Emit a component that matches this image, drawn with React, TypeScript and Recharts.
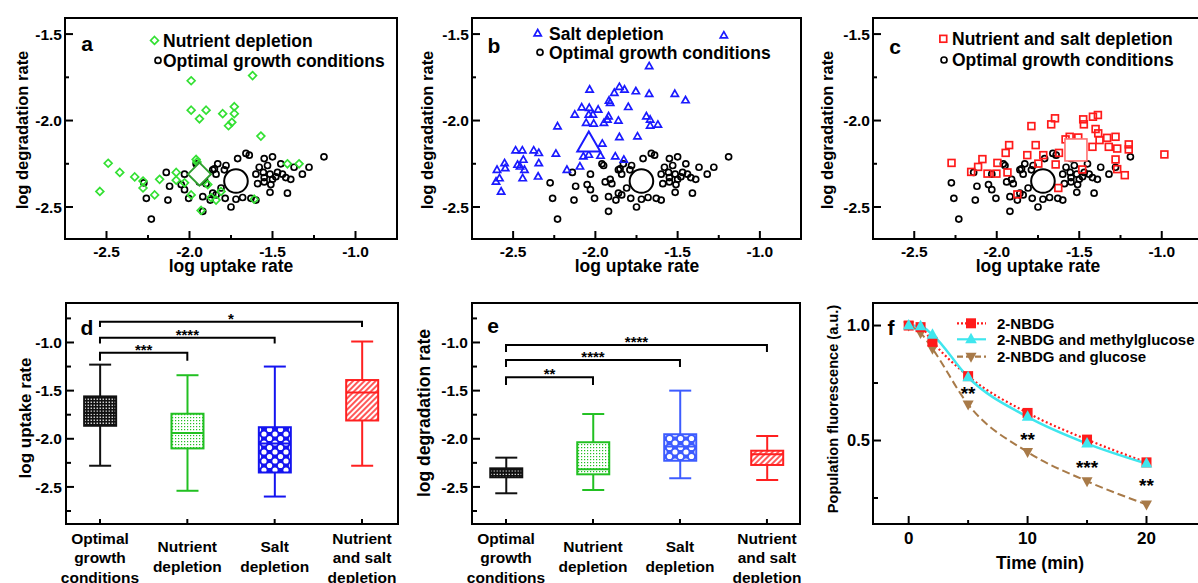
import React from "react"
import {
  ScatterChart,
  Scatter,
  ComposedChart,
  Bar,
  Line,
  XAxis,
  YAxis,
  ReferenceArea,
  Legend,
} from "recharts"

const FONT = "'Liberation Sans', Arial, Helvetica, sans-serif"

// ---------- a-c: single cells as [log uptake rate, log degradation rate] ----------
const optimalCells: [number, number][] = [
  [-1.19, -2.21], [-1.64, -2.2], [-1.71, -2.22], [-1.55, -2.22], [-1.5, -2.21], [-1.96, -2.25],
  [-1.83, -2.25], [-1.78, -2.26], [-1.53, -2.26], [-1.45, -2.25], [-1.37, -2.27], [-1.28, -2.27],
  [-2.14, -2.3], [-2.03, -2.31], [-1.86, -2.285], [-1.79, -2.285], [-1.84, -2.31], [-1.6, -2.31],
  [-1.555, -2.3], [-1.515, -2.31], [-1.48, -2.325], [-1.44, -2.31], [-1.32, -2.31], [-2.275, -2.36],
  [-2.12, -2.38], [-2.05, -2.37], [-1.94, -2.355], [-1.91, -2.34], [-1.9, -2.365], [-2.03, -2.4],
  [-1.81, -2.39], [-1.59, -2.365], [-1.55, -2.355], [-1.51, -2.37], [-1.42, -2.33], [-1.39, -2.34],
  [-2.26, -2.45], [-2.13, -2.46], [-2.005, -2.45], [-1.92, -2.44], [-1.875, -2.46], [-1.84, -2.43],
  [-1.785, -2.45], [-1.72, -2.455], [-1.68, -2.445], [-1.63, -2.45], [-1.6, -2.46], [-1.515, -2.415],
  [-1.41, -2.42], [-1.92, -2.525], [-1.75, -2.5], [-2.23, -2.57], [-1.55, -2.33], [-1.5, -2.34],
  [-1.58, -2.27], [-1.47, -2.3], [-1.85, -2.28], [-1.66, -2.19], [-1.95, -2.26], [-1.86, -2.42],
]

const nutrientCells: [number, number][] = [
  [-2.54, -2.41], [-2.49, -2.247], [-2.42, -2.3], [-2.33, -2.326], [-2.28, -2.35], [-2.28, -2.39],
  [-2.21, -2.43], [-2.18, -2.34], [-2.08, -2.3], [-2.08, -2.345], [-2.03, -2.36], [-1.99, -2.43],
  [-1.99, -1.77], [-1.99, -1.94], [-1.94, -1.99], [-1.9, -1.94], [-1.96, -2.225], [-1.955, -2.24],
  [-1.89, -2.37], [-1.93, -2.52], [-1.87, -2.445], [-1.84, -2.46], [-1.8, -1.96], [-1.81, -2.41],
  [-1.765, -2.03], [-1.745, -2.01], [-1.73, -1.92], [-1.73, -1.96], [-1.62, -1.74], [-1.61, -2.455],
  [-1.57, -2.09], [-1.41, -2.25], [-1.34, -2.25],
]

const saltCells: [number, number][] = [
  [-1.673, -1.688], [-2.035, -1.823], [-1.854, -1.808], [-1.885, -1.842], [-1.823, -1.823],
  [-1.754, -1.833], [-1.673, -1.848], [-1.517, -1.848], [-1.452, -1.885], [-1.917, -1.887],
  [-1.91, -1.9], [-2.083, -1.926], [-2.037, -1.929], [-1.983, -1.939], [-2.125, -1.968],
  [-2.04, -1.968], [-2.015, -1.968], [-1.92, -1.978], [-1.8, -1.924], [-1.69, -1.978],
  [-1.667, -1.997], [-2.056, -2.016], [-2.01, -2.02], [-1.948, -2.016], [-1.927, -1.997],
  [-1.86, -2.003], [-1.667, -2.032], [-1.62, -2.026], [-2.23, -2.036], [-1.854, -2.098],
  [-1.744, -2.094], [-1.958, -2.136], [-2.485, -2.175], [-2.444, -2.175], [-2.375, -2.175],
  [-2.344, -2.19], [-2.24, -2.194], [-2.073, -2.21], [-2.04, -2.2], [-1.969, -2.206],
  [-1.879, -2.21], [-1.827, -2.229], [-2.598, -2.287], [-2.604, -2.355], [-2.583, -2.336],
  [-2.573, -2.413], [-2.552, -2.249], [-2.548, -2.278], [-2.473, -2.258], [-2.458, -2.268],
  [-2.438, -2.229], [-2.431, -2.287], [-2.442, -2.336], [-2.344, -2.249], [-2.348, -2.326],
  [-2.173, -2.287], [-2.094, -2.268], [-1.219, -1.51],
]

const nutrientSaltCells: [number, number][] = [
  [-2.274, -2.245], [-2.155, -2.297], [-2.113, -2.268], [-2.087, -2.223], [-2.056, -2.307],
  [-2.002, -2.307], [-1.996, -2.245], [-1.946, -2.187], [-1.925, -2.142], [-1.935, -2.3],
  [-1.875, -2.427], [-1.79, -2.032], [-1.815, -2.2], [-1.764, -2.142], [-1.748, -2.249],
  [-1.718, -2.2], [-1.67, -2.022], [-1.647, -1.987], [-1.643, -2.254], [-1.623, -2.187],
  [-1.627, -2.39], [-1.583, -2.109], [-1.558, -2.094], [-1.482, -2.283], [-1.476, -1.993],
  [-1.472, -2.022], [-1.417, -1.978], [-1.387, -1.968], [-1.401, -2.049], [-1.385, -2.074],
  [-1.377, -2.113], [-1.42, -2.152], [-1.331, -2.1], [-1.321, -2.152], [-1.28, -2.094],
  [-1.27, -2.162], [-1.28, -2.225], [-1.27, -2.281], [-1.224, -2.316], [-1.2, -2.138],
  [-1.2, -2.167], [-0.984, -2.196], [-1.506, -2.098],
]

// population means (large open markers)
const optimalMean: [number, number] = [-1.72, -2.35]
const nutrientMean: [number, number] = [-1.94, -2.31]
const saltMean: [number, number] = [-2.04, -2.14]
const nutrientSaltMean: [number, number] = [-1.52, -2.17]

const upDomain = [-2.75, -0.75]
const upTicks = [-2.5, -2.25, -2, -1.75, -1.5, -1.25, -1]
const upMajor = [-2.5, -2, -1.5, -1]
const degDomain = [-2.685, -1.407]
const degTicks = [-2.5, -2.25, -2, -1.75, -1.5]
const degMajor = [-2.5, -2, -1.5]

// ---------- d-e: box plots ----------
const conditionLines = [
  ["Optimal", "growth", "conditions"],
  ["Nutrient", "depletion"],
  ["Salt", "depletion"],
  ["Nutrient", "and salt", "depletion"],
]
const uptakeMin = [-2.28, -2.54, -2.6, -2.28]
const uptakeQ1 = [-1.865, -2.1, -2.35, -1.81]
const uptakeMedian = [-1.73, -1.94, -2.05, -1.52]
const uptakeQ3 = [-1.56, -1.74, -1.88, -1.39]
const uptakeMax = [-1.23, -1.34, -1.25, -0.99]

const degMin = [-2.566, -2.532, -2.41, -2.428]
const degQ1 = [-2.4, -2.369, -2.228, -2.272]
const degMedian = [-2.35, -2.317, -2.08, -2.16]
const degQ3 = [-2.307, -2.036, -1.953, -2.124]
const degMax = [-2.196, -1.743, -1.5, -1.971]

const uptakeBrackets = [
  { from: 1, to: 2, y: -1.106, drop: -1.19, label: "***" },
  { from: 1, to: 3, y: -0.95, drop: -1.01, label: "****" },
  { from: 1, to: 4, y: -0.784, drop: -0.84, label: "*" },
]
const degBrackets = [
  { from: 1, to: 2, y: -1.362, drop: -1.441, label: "**" },
  { from: 1, to: 3, y: -1.182, drop: -1.255, label: "****" },
  { from: 1, to: 4, y: -1.026, drop: -1.099, label: "****" },
]

const boxYDomain = [-2.885, -0.59]
const boxYTicks = [-2.75, -2.5, -2.25, -2, -1.75, -1.5, -1.25, -1, -0.75]
const boxYMajor = [-2.5, -2, -1.5, -1]

// ---------- f: population fluorescence ----------
const fTimes = [0, 1, 2, 5, 10, 15, 20]
const nbdg = [1.0, 0.993, 0.929, 0.78, 0.62, 0.504, 0.405]
const nbdgMethyl = [1.0, 0.997, 0.96, 0.775, 0.603, 0.487, 0.4]
const nbdgGlucose = [1.0, 0.968, 0.899, 0.657, 0.45, 0.323, 0.222]
const sigTimes = [5, 10, 15, 20]
const sigLevels = [0.725, 0.526, 0.403, 0.323]
const sigLabels = ["**", "**", "***", "**"]

const fXDomain = [-3, 24.5]
const fXTicks = [0, 5, 10, 15, 20]
const fXMajor = [0, 10, 20]
const fYDomain = [0.137, 1.098]
const fYTicks = [0.25, 0.5, 0.75, 1]
const fYMajor = [0.5, 1]

const GREEN = "#33e033"
const BLUE = "#1a1aff"
const RED = "#ff1a1a"
const CYAN = "#3fe6ee"
const BROWN = "#a87a48"

// ---------- helpers ----------
const toXY = (pts: [number, number][]) => pts.map(([x, y]) => ({ x, y }))

const bare = {
  type: "number" as const,
  tickLine: false,
  axisLine: false,
  tickSize: 0,
  tickMargin: 0,
  interval: 0 as const,
  allowDataOverflow: true,
}

interface TickStyle {
  majors: number[]
  size?: number
  gap?: number
  long?: number
  short?: number
  fmt?: (v: number) => string
}

function makeTick(side: "bottom" | "left" | "right", s: TickStyle) {
  const { majors, size = 15.5, gap = 3, long = 8, short = 4, fmt = (v: number) => v.toFixed(1) } = s
  return (p: any) => {
    const v = Number(p.payload.value)
    const major = majors.some((m) => Math.abs(m - v) < 1e-6)
    const len = major ? long : short
    const txt = { fontSize: size, fontWeight: 700, fontFamily: FONT, fill: "#000" }
    if (side === "bottom") {
      return (
        <g>
          <line x1={p.x} x2={p.x} y1={p.y} y2={p.y - len} stroke="#000" strokeWidth={2} />
          {major && (
            <text x={p.x} y={p.y + gap} textAnchor="middle" {...txt}>
              {fmt(v)}
            </text>
          )}
        </g>
      )
    }
    if (side === "left") {
      return (
        <g>
          <line x1={p.x} x2={p.x + len} y1={p.y} y2={p.y} stroke="#000" strokeWidth={2} />
          {major && (
            <text x={p.x - gap} y={p.y + size * 0.36} textAnchor="end" {...txt}>
              {fmt(v)}
            </text>
          )}
        </g>
      )
    }
    return <line x1={p.x} x2={p.x - len} y1={p.y} y2={p.y} stroke="#000" strokeWidth={2} />
  }
}

function mark(kind: string, cx: number, cy: number, color: string, big = false) {
  const sw = big ? 2 : 1.7
  const fill = big ? "#fff" : "none"
  if (kind === "diamond") {
    const h = big ? 11.5 : 3.9
    return (
      <polygon
        points={`${cx},${cy - h} ${cx + h},${cy} ${cx},${cy + h} ${cx - h},${cy}`}
        fill={fill}
        stroke={color}
        strokeWidth={sw}
      />
    )
  }
  if (kind === "triangle") {
    const w = big ? 11.5 : 3.6
    const h = big ? 20 : 6.3
    return (
      <polygon
        points={`${cx},${cy - (h * 2) / 3} ${cx + w},${cy + h / 3} ${cx - w},${cy + h / 3}`}
        fill={fill}
        stroke={color}
        strokeWidth={sw}
      />
    )
  }
  if (kind === "square") {
    const s = big ? 11 : 3.4
    return (
      <rect x={cx - s} y={cy - s} width={2 * s} height={2 * s} fill={fill} stroke={color} strokeWidth={big ? 1.6 : sw} />
    )
  }
  return <circle cx={cx} cy={cy} r={big ? 11.8 : 3} fill={fill} stroke={color} strokeWidth={sw} />
}

// ---------- a-c ----------
interface LegendRow {
  kind: string
  color: string
  text: string
  mx: number
  tx: number
  cy: number
}

interface ScatterCfg {
  left: number
  width: number
  yw: number
  right: number
  kind: string
  color: string
  meanColor: string
  cells: [number, number][]
  mean: [number, number]
  legend: LegendRow[]
}

function ScatterLegend({ rows, width }: { rows: LegendRow[]; width: number }) {
  return (
    <svg width={width} height={80} style={{ display: "block" }}>
      {rows.map((r) => (
        <g key={r.text}>
          {mark(r.kind, r.mx, r.cy, r.color)}
          <text x={r.tx} y={r.cy + 6.3} fontSize={17.5} fontWeight={700} fontFamily={FONT} fill="#000">
            {r.text}
          </text>
        </g>
      ))}
    </svg>
  )
}

function ScatterPanel({ c }: { c: ScatterCfg }) {
  return (
    <div style={{ position: "absolute", left: c.left, top: 0 }}>
      <ScatterChart width={c.width} height={290} margin={{ top: 18, right: c.right, bottom: 0, left: 0 }}>
        <XAxis
          dataKey="x"
          {...bare}
          domain={upDomain}
          ticks={upTicks}
          tick={makeTick("bottom", { majors: upMajor, gap: 18 })}
          height={51}
        />
        <YAxis dataKey="y" {...bare} domain={degDomain} ticks={degTicks} tick={makeTick("left", { majors: degMajor })} width={c.yw} />
        <YAxis
          yAxisId="r"
          orientation="right"
          {...bare}
          domain={degDomain}
          ticks={degTicks}
          tick={makeTick("right", { majors: degMajor })}
          width={0}
        />
        <ReferenceArea
          x1={upDomain[0]}
          x2={upDomain[1]}
          y1={degDomain[0]}
          y2={degDomain[1]}
          fill="none"
          stroke="#000"
          strokeWidth={2}
          ifOverflow="visible"
        />
        <Scatter data={toXY(optimalCells)} shape={(p: any) => mark("circle", p.cx, p.cy, "#000")} isAnimationActive={false} />
        <Scatter data={toXY(c.cells)} shape={(p: any) => mark(c.kind, p.cx, p.cy, c.color)} isAnimationActive={false} />
        <Scatter data={toXY([c.mean])} shape={(p: any) => mark(c.kind, p.cx, p.cy, c.meanColor, true)} isAnimationActive={false} />
        <Scatter data={toXY([optimalMean])} shape={(p: any) => mark("circle", p.cx, p.cy, "#000", true)} isAnimationActive={false} />
        <Legend
          layout="vertical"
          align="center"
          verticalAlign="middle"
          wrapperStyle={{ left: 0, top: 0, width: c.width, height: 80, pointerEvents: "none" }}
          content={() => <ScatterLegend rows={c.legend} width={c.width} />}
        />
      </ScatterChart>
    </div>
  )
}

const scatterPanels: ScatterCfg[] = [
  {
    left: 0, width: 400, yw: 65, right: 3, kind: "diamond", color: GREEN, meanColor: "#2f9f2f",
    cells: nutrientCells, mean: nutrientMean,
    legend: [
      { kind: "diamond", color: GREEN, text: "Nutrient depletion", mx: 154.5, tx: 163, cy: 40.4 },
      { kind: "circle", color: "#000", text: "Optimal growth conditions", mx: 158, tx: 163, cy: 60.4 },
    ],
  },
  {
    left: 400, width: 405, yw: 72, right: 4, kind: "triangle", color: BLUE, meanColor: BLUE,
    cells: saltCells, mean: saltMean,
    legend: [
      { kind: "triangle", color: BLUE, text: "Salt depletion", mx: 137.7, tx: 149, cy: 33.7 },
      { kind: "circle", color: "#000", text: "Optimal growth conditions", mx: 140, tx: 149, cy: 52.3 },
    ],
  },
  {
    left: 800, width: 406, yw: 73, right: 3, kind: "square", color: RED, meanColor: "#ff7070",
    cells: nutrientSaltCells, mean: nutrientSaltMean,
    legend: [
      { kind: "square", color: RED, text: "Nutrient and salt depletion", mx: 143.3, tx: 152, cy: 38.8 },
      { kind: "circle", color: "#000", text: "Optimal growth conditions", mx: 144, tx: 152, cy: 60 },
    ],
  },
]

// ---------- d-e ----------
function BoxPatterns({ idp, colors }: { idp: string; colors: string[] }) {
  return (
    <defs>
      <pattern id={`${idp}-0`} width={3} height={3} patternUnits="userSpaceOnUse">
        <rect width={3} height={3} fill={colors[0]} />
        <rect x={0.6} y={0.6} width={1.3} height={1.3} fill="#fff" />
      </pattern>
      <pattern id={`${idp}-1`} width={3} height={3} patternUnits="userSpaceOnUse">
        <rect width={3} height={3} fill="#fff" />
        <rect x={1} y={1} width={1.2} height={1.2} fill={colors[1]} />
      </pattern>
      <pattern id={`${idp}-2`} width={11} height={9} patternUnits="userSpaceOnUse">
        <rect width={11} height={9} fill={colors[2]} />
        <circle cx={0} cy={0} r={2.6} fill="#fff" />
        <circle cx={11} cy={0} r={2.6} fill="#fff" />
        <circle cx={0} cy={9} r={2.6} fill="#fff" />
        <circle cx={11} cy={9} r={2.6} fill="#fff" />
        <circle cx={5.5} cy={4.5} r={2.6} fill="#fff" />
      </pattern>
      <pattern id={`${idp}-3`} width={4} height={4} patternUnits="userSpaceOnUse" patternTransform="rotate(45)">
        <rect width={4} height={4} fill="#fff" />
        <line x1={2} y1={0} x2={2} y2={4} stroke={colors[3]} strokeWidth={1.5} />
      </pattern>
    </defs>
  )
}

function BoxWhisker(props: any) {
  const { x, y, width, height, payload, color, fillId } = props
  if (!payload || height == null) return null
  const span = payload.max - payload.min
  const toY = (v: number) => y + ((payload.max - v) / span) * height
  const cx = x + width / 2
  const cap = 11
  const yQ3 = toY(payload.q3)
  const yQ1 = toY(payload.q1)
  const yMed = toY(payload.med)
  return (
    <g stroke={color} strokeWidth={2}>
      <line x1={cx} x2={cx} y1={y} y2={y + height} />
      <line x1={cx - cap} x2={cx + cap} y1={y} y2={y} />
      <line x1={cx - cap} x2={cx + cap} y1={y + height} y2={y + height} />
      <rect x={x} y={yQ3} width={width} height={yQ1 - yQ3} fill={`url(#${fillId})`} />
      <line x1={x} x2={x + width} y1={yMed} y2={yMed} />
    </g>
  )
}

function CategoryTick(p: any) {
  const i = Math.round(Number(p.payload.value)) - 1
  const lines = conditionLines[i] || []
  const first = lines.length === 3 ? 19.5 : 28
  return (
    <g>
      <line x1={p.x} x2={p.x} y1={p.y} y2={p.y - 5} stroke="#000" strokeWidth={2} />
      <text textAnchor="middle" fontSize={15.5} fontWeight={700} fontFamily={FONT} fill="#000">
        {lines.map((l, k) => (
          <tspan key={k} x={p.x} y={p.y + first + k * 19.5}>
            {l}
          </tspan>
        ))}
      </text>
    </g>
  )
}

interface Bracket {
  from: number
  to: number
  y: number
  drop: number
  label: string
}

interface BoxCfg {
  idp: string
  left: number
  width: number
  yw: number
  right: number
  xDomain: number[]
  min: number[]
  q1: number[]
  med: number[]
  q3: number[]
  max: number[]
  brackets: Bracket[]
  colors: string[]
}

function BoxPanel({ c }: { c: BoxCfg }) {
  const data = conditionLines.map((_, i) => ({
    pos: i + 1,
    min: c.min[i],
    q1: c.q1[i],
    med: c.med[i],
    q3: c.q3[i],
    max: c.max[i],
    range: [c.min[i], c.max[i]],
  }))
  const bracketLines = c.brackets.map((b) => [
    { pos: b.from, v: b.drop },
    { pos: b.from, v: b.y },
    { pos: b.to, v: b.y },
    { pos: b.to, v: b.drop },
  ])
  const bracketLabels = c.brackets.map((b) => ({ pos: (b.from + b.to) / 2, v: b.y, label: b.label }))
  return (
    <div style={{ position: "absolute", left: c.left, top: 290 }}>
      <ComposedChart width={c.width} height={293} data={data} margin={{ top: 13, right: c.right, bottom: 0, left: 0 }}>
        <BoxPatterns idp={c.idp} colors={c.colors} />
        <XAxis dataKey="pos" {...bare} domain={c.xDomain} ticks={[1, 2, 3, 4]} tick={CategoryTick} height={59} />
        <YAxis {...bare} domain={boxYDomain} ticks={boxYTicks} tick={makeTick("left", { majors: boxYMajor, gap: 4, short: 5 })} width={c.yw} />
        <YAxis
          yAxisId="r"
          orientation="right"
          {...bare}
          domain={boxYDomain}
          ticks={boxYTicks}
          tick={makeTick("right", { majors: boxYMajor, short: 5 })}
          width={0}
        />
        <ReferenceArea
          x1={c.xDomain[0]}
          x2={c.xDomain[1]}
          y1={boxYDomain[0]}
          y2={boxYDomain[1]}
          fill="none"
          stroke="#000"
          strokeWidth={2}
          ifOverflow="visible"
        />
        <Bar
          dataKey="range"
          barSize={32}
          isAnimationActive={false}
          shape={(p: any) => (
            <BoxWhisker {...p} color={c.colors[p.payload.pos - 1]} fillId={`${c.idp}-${p.payload.pos - 1}`} />
          )}
        />
        {bracketLines.map((pts, k) => (
          <Line
            key={`br${k}`}
            data={pts}
            dataKey="v"
            type="linear"
            stroke="#000"
            strokeWidth={2}
            dot={false}
            activeDot={false}
            isAnimationActive={false}
          />
        ))}
        <Scatter
          data={bracketLabels}
          dataKey="v"
          isAnimationActive={false}
          shape={(p: any) => (
            <text x={p.cx} y={p.cy + 2} textAnchor="middle" fontSize={15} fontWeight={700} fontFamily={FONT} fill="#000">
              {p.payload.label}
            </text>
          )}
        />
      </ComposedChart>
    </div>
  )
}

const boxPanels: BoxCfg[] = [
  {
    idp: "pd", left: 0, width: 400, yw: 66, right: 2, xDomain: [0.611, 4.412],
    min: uptakeMin, q1: uptakeQ1, med: uptakeMedian, q3: uptakeQ3, max: uptakeMax,
    brackets: uptakeBrackets, colors: ["#111111", "#22c022", "#1414f0", "#ff2020"],
  },
  {
    idp: "pe", left: 400, width: 405, yw: 72, right: 5, xDomain: [0.609, 4.38],
    min: degMin, q1: degQ1, med: degMedian, q3: degQ3, max: degMax,
    brackets: degBrackets, colors: ["#111111", "#22c022", "#3d5cff", "#ff2020"],
  },
]

// ---------- f ----------
const square = (cx: number, cy: number, key?: string) => (
  <rect key={key} x={cx - 5} y={cy - 5} width={10} height={10} fill={RED} />
)
const triUp = (cx: number, cy: number, key?: string) => (
  <polygon key={key} points={`${cx},${cy - 6.5} ${cx + 5.8},${cy + 4} ${cx - 5.8},${cy + 4}`} fill={CYAN} />
)
const triDown = (cx: number, cy: number, key?: string) => (
  <polygon key={key} points={`${cx - 5.5},${cy - 4} ${cx + 5.5},${cy - 4} ${cx},${cy + 6}`} fill={BROWN} />
)

function DecayLegend() {
  const rows = [
    { text: "2-NBDG", cy: 33.3, stroke: RED, dash: "2 2", m: square },
    { text: "2-NBDG and methylglucose", cy: 49.3, stroke: CYAN, dash: undefined, m: triUp },
    { text: "2-NBDG and glucose", cy: 66.7, stroke: BROWN, dash: "6 3", m: triDown },
  ]
  return (
    <svg width={408} height={80} style={{ display: "block" }}>
      {rows.map((r) => (
        <g key={r.text}>
          <line x1={157} x2={186} y1={r.cy} y2={r.cy} stroke={r.stroke} strokeWidth={2.2} strokeDasharray={r.dash} />
          {r.m(171, r.cy)}
          <text x={197} y={r.cy + 5.4} fontSize={15} fontWeight={700} fontFamily={FONT} fill="#000">
            {r.text}
          </text>
        </g>
      ))}
    </svg>
  )
}

function DecayPanel() {
  const rows = fTimes.map((t, i) => ({ t, nbdg: nbdg[i], methyl: nbdgMethyl[i], glucose: nbdgGlucose[i] }))
  const sig = sigTimes.map((t, i) => ({ t, v: sigLevels[i], label: sigLabels[i] }))
  return (
    <div style={{ position: "absolute", left: 800, top: 290 }}>
      <ComposedChart width={408} height={293} data={rows} margin={{ top: 13, right: 8, bottom: 0, left: 0 }}>
        <XAxis
          dataKey="t"
          {...bare}
          domain={fXDomain}
          ticks={fXTicks}
          tick={makeTick("bottom", { majors: fXMajor, size: 17, gap: 20, fmt: (v) => String(v) })}
          height={59}
        />
        <YAxis
          {...bare}
          domain={fYDomain}
          ticks={fYTicks}
          tick={makeTick("left", { majors: fYMajor, size: 16.5, gap: 3, short: 5 })}
          width={73}
        />
        <YAxis
          yAxisId="r"
          orientation="right"
          {...bare}
          domain={fYDomain}
          ticks={fYTicks}
          tick={makeTick("right", { majors: fYMajor, short: 5 })}
          width={0}
        />
        <ReferenceArea
          x1={fXDomain[0]}
          x2={fXDomain[1]}
          y1={fYDomain[0]}
          y2={fYDomain[1]}
          fill="none"
          stroke="#000"
          strokeWidth={2}
          ifOverflow="visible"
        />
        <Line
          dataKey="glucose"
          type="monotone"
          stroke={BROWN}
          strokeWidth={2}
          strokeDasharray="8 4"
          dot={(p: any) => triDown(p.cx, p.cy, `g${p.index}`)}
          activeDot={false}
          isAnimationActive={false}
        />
        <Line
          dataKey="nbdg"
          type="monotone"
          stroke={RED}
          strokeWidth={2.2}
          strokeDasharray="2 2.5"
          dot={(p: any) => square(p.cx, p.cy, `n${p.index}`)}
          activeDot={false}
          isAnimationActive={false}
        />
        <Line
          dataKey="methyl"
          type="monotone"
          stroke={CYAN}
          strokeWidth={2.4}
          dot={(p: any) => triUp(p.cx, p.cy, `m${p.index}`)}
          activeDot={false}
          isAnimationActive={false}
        />
        <Scatter
          data={sig}
          dataKey="v"
          isAnimationActive={false}
          shape={(p: any) => (
            <text x={p.cx} y={p.cy + 11} textAnchor="middle" fontSize={19} fontWeight={700} fontFamily={FONT} fill="#000">
              {p.payload.label}
            </text>
          )}
        />
        <Legend
          layout="vertical"
          align="center"
          verticalAlign="middle"
          wrapperStyle={{ left: 0, top: 0, width: 408, height: 80, pointerEvents: "none" }}
          content={() => <DecayLegend />}
        />
      </ComposedChart>
    </div>
  )
}

// ---------- titles & panel letters ----------
const captions = [
  { text: "a", x: 87, y: 43, size: 21 },
  { text: "b", x: 494, y: 45, size: 21 },
  { text: "c", x: 895, y: 46, size: 21 },
  { text: "d", x: 87, y: 327, size: 21 },
  { text: "e", x: 493, y: 325, size: 21 },
  { text: "f", x: 891, y: 327, size: 21 },
  { text: "log degradation rate", x: 22, y: 130, size: 16.5, rot: true },
  { text: "log degradation rate", x: 427, y: 130, size: 16.5, rot: true },
  { text: "log degradation rate", x: 827, y: 130, size: 16.5, rot: true },
  { text: "log uptake rate", x: 231, y: 267, size: 17.5 },
  { text: "log uptake rate", x: 637, y: 267, size: 17.5 },
  { text: "log uptake rate", x: 1038, y: 267, size: 17.5 },
  { text: "log uptake rate", x: 25, y: 418, size: 17, rot: true },
  { text: "log degradation rate", x: 425, y: 413, size: 17.5, rot: true },
  { text: "Population fluorescence (a.u.)", x: 833, y: 409, size: 14.6, rot: true },
  { text: "Time (min)", x: 1040, y: 564, size: 17.5 },
]

export default function App() {
  return (
    <div
      style={{
        position: "absolute",
        left: 0,
        top: 0,
        width: 1198,
        height: 583,
        overflow: "hidden",
        background: "#fff",
        fontFamily: FONT,
      }}
    >
      {scatterPanels.map((c, i) => (
        <ScatterPanel key={i} c={c} />
      ))}
      {boxPanels.map((c) => (
        <BoxPanel key={c.idp} c={c} />
      ))}
      <DecayPanel />
      {captions.map((t, i) => (
        <div
          key={i}
          style={{
            position: "absolute",
            left: t.x,
            top: t.y,
            transform: `translate(-50%, -50%)${t.rot ? " rotate(-90deg)" : ""}`,
            fontSize: t.size,
            fontWeight: 700,
            lineHeight: 1,
            whiteSpace: "nowrap",
            color: "#000",
          }}
        >
          {t.text}
        </div>
      ))}
    </div>
  )
}
